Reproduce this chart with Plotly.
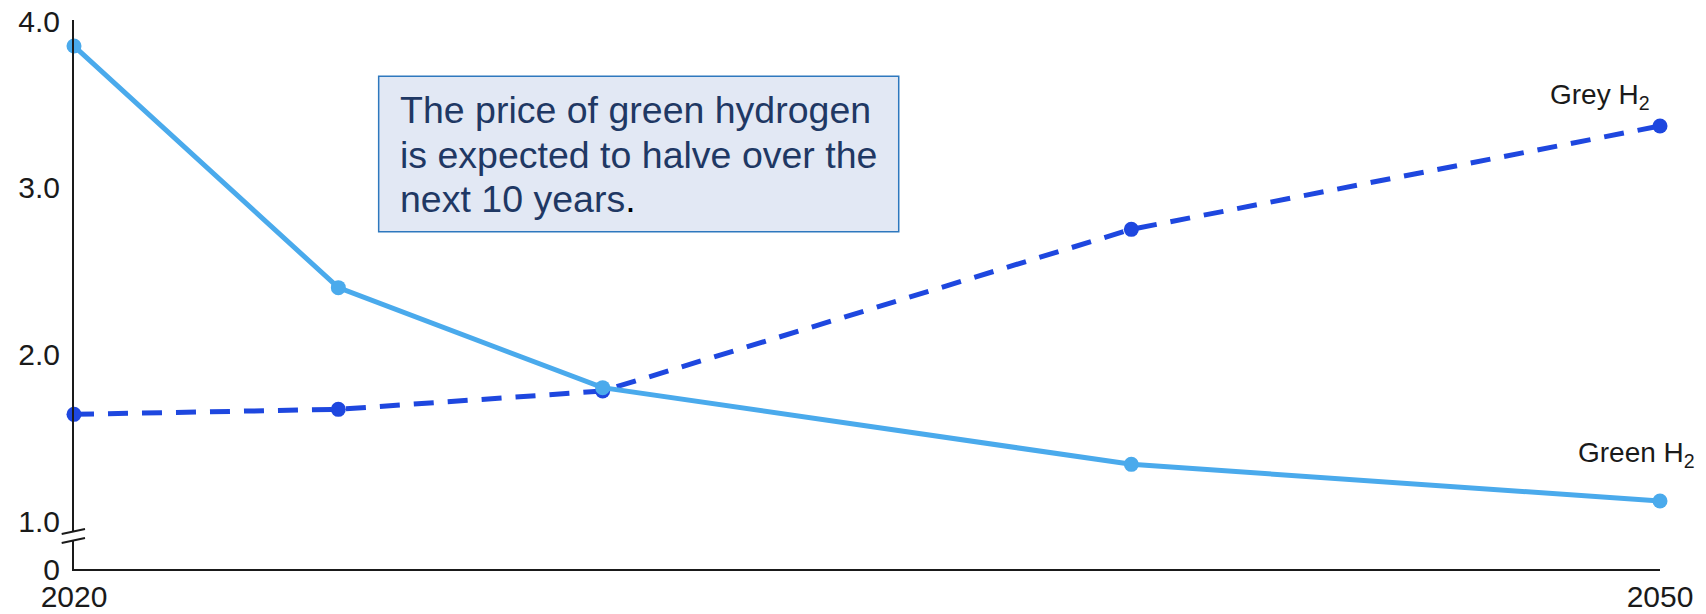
import plotly.graph_objects as go

# Hydrogen price outlook, 2020-2050
years = [2020, 2025, 2030, 2040, 2050]
green_h2 = [3.85, 2.40, 1.80, 1.34, 1.12]
grey_h2 = [1.64, 1.67, 1.78, 2.75, 3.37]

y_tick_vals = [0.712, 1, 2, 3, 4]
y_tick_text = ["0", "1.0", "2.0", "3.0", "4.0"]
x_tick_vals = [2020, 2050]
x_tick_text = ["2020", "2050"]

callout_lines = [
    "The price of green hydrogen",
    "is expected to halve over the",
    "next 10 years<span style='color:#000000'>.</span>",
]

GREEN = "#4AAAEC"
GREY = "#1E47DF"
AXIS = "#1a1a1a"
FONT = "Liberation Sans"

fig = go.Figure()

fig.add_trace(go.Scatter(
    x=years, y=grey_h2, mode="lines+markers", name="Grey H2",
    line=dict(color=GREY, width=5, dash="20px,14px"),
    marker=dict(color=GREY, size=15),
    cliponaxis=False, showlegend=False,
))
fig.add_trace(go.Scatter(
    x=years, y=green_h2, mode="lines+markers", name="Green H2",
    line=dict(color=GREEN, width=5),
    marker=dict(color=GREEN, size=15),
    cliponaxis=False, showlegend=False,
))

fig.update_layout(
    width=1706, height=614,
    margin=dict(l=74, r=46, t=20, b=45),
    paper_bgcolor="white", plot_bgcolor="white",
    font=dict(family=FONT, size=30, color=AXIS),
    xaxis=dict(
        range=[2020, 2050], showgrid=False, zeroline=False, automargin=False,
        showline=True, linecolor=AXIS, linewidth=2,
        tickvals=x_tick_vals, ticktext=x_tick_text, ticks="",
        ticklabelstandoff=0,
    ),
    yaxis=dict(
        range=[0.712, 4.006], showgrid=False, zeroline=False, automargin=False,
        showline=True, linecolor=AXIS, linewidth=2,
        tickvals=y_tick_vals, ticktext=y_tick_text, ticks="",
        ticklabelstandoff=6,
    ),
)

# Callout box
fig.add_shape(type="rect", xref="paper", yref="paper",
              x0=0.1921, x1=0.5200, y0=0.6144, y1=0.8976,
              fillcolor="#E2E8F4", line=dict(color="#2E78BE", width=1.5),
              layer="above")
for line_text, ypos in zip(callout_lines, [0.836, 0.754, 0.674]):
    fig.add_annotation(
        xref="paper", yref="paper", x=0.2043, y=ypos,
        xanchor="left", yanchor="middle", align="left", showarrow=False,
        text=line_text,
        font=dict(family=FONT, size=37.5, color="#1F3864"),
    )

# Series labels
fig.add_annotation(xref="paper", yref="paper", x=0.9950, y=0.86,
                   xanchor="right", yanchor="middle", showarrow=False,
                   text="Grey H<sub>2</sub>", font=dict(size=28, color=AXIS))
fig.add_annotation(xref="paper", yref="paper", x=1.0233, y=0.2077,
                   xanchor="right", yanchor="middle", showarrow=False,
                   text="Green H<sub>2</sub>", font=dict(size=28, color=AXIS))

# Axis break marks on the y-axis
fig.add_shape(type="line", xref="paper", yref="paper",
              x0=0.0, x1=0.0, y0=0.0528, y1=0.0683,
              line=dict(color="white", width=4), layer="above")
for y0, y1 in [(0.0638, 0.0729), (0.0474, 0.0565)]:
    fig.add_shape(type="line", xref="paper", yref="paper",
                  x0=-0.00776, x1=0.00694, y0=y0, y1=y1,
                  line=dict(color=AXIS, width=2), layer="above")

fig.write_html("out.html")
